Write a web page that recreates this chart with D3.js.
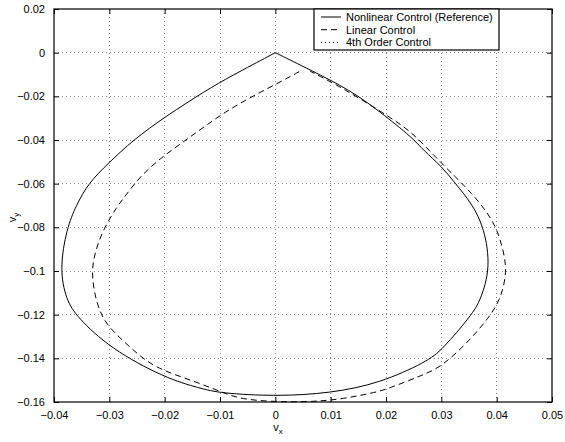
<!DOCTYPE html>
<html>
<head>
<meta charset="utf-8">
<style>
  body { margin: 0; background: #fff; }
  svg text { font-family: "Liberation Sans", Arial, sans-serif; font-size: 11px; fill: #000; }
  .grid line { stroke: #888; stroke-dasharray: 1,3; shape-rendering: crispEdges; }
</style>
<script src="https://d3js.org/d3.v7.min.js"></script>
</head>
<body>
<svg id="chart" width="565" height="442"></svg>
<script>
// nonlinear control (reference) trajectory
var nlX = [0, -0.0082, -0.0124, -0.0199, -0.0257, -0.0302, -0.0338, -0.0360, -0.0377, -0.0390, -0.0378, -0.0359, -0.0299, -0.0199, -0.0136, -0.0100, 0.0002, 0.0099, 0.0189, 0.0274, 0.0301, 0.0355, 0.0371, 0.0389, 0.0378, 0.0355, 0.0325, 0.0301, 0.0267, 0.0249, 0.0189, 0.0135, 0.0063, 0];
var nlY = [0, -0.0110, -0.0171, -0.0293, -0.0400, -0.0507, -0.0598, -0.0700, -0.0804, -0.0990, -0.1132, -0.1209, -0.1354, -0.1491, -0.1537, -0.1560, -0.1574, -0.1560, -0.1514, -0.1415, -0.1362, -0.1201, -0.1133, -0.0985, -0.0804, -0.0690, -0.0598, -0.0522, -0.0446, -0.0392, -0.0270, -0.0171, -0.0079, 0];
// linear control trajectory
var linX = [0.0043, 0.0018, -0.0075, -0.0124, -0.0166, -0.0208, -0.0245, -0.0272, -0.0286, -0.0310, -0.0325, -0.0333, -0.0325, -0.0311, -0.0290, -0.0257, -0.0232, -0.0199, -0.0136, -0.0088, -0.0052, 0.0027, 0.0075, 0.0122, 0.0177, 0.0201, 0.0267, 0.0301, 0.0352, 0.0385, 0.0407, 0.0419, 0.0412, 0.0400, 0.0382, 0.0355, 0.0325, 0.0286, 0.0249, 0.0210, 0.0147, 0.0105, 0.0063];
var linY = [-0.0087, -0.0122, -0.0244, -0.0331, -0.0408, -0.0484, -0.0568, -0.0659, -0.0705, -0.0804, -0.0904, -0.1003, -0.1132, -0.1224, -0.1285, -0.1362, -0.1415, -0.1461, -0.1514, -0.1565, -0.1592, -0.1601, -0.1597, -0.1586, -0.1558, -0.1542, -0.1476, -0.1438, -0.1316, -0.1216, -0.1132, -0.1003, -0.0904, -0.0804, -0.0728, -0.0644, -0.0568, -0.0470, -0.0369, -0.0300, -0.0201, -0.0140, -0.0085];
var legendNames = ["Nonlinear Control (Reference)", "Linear Control", "4th Order Control"];
var legendDash = ["none", "6,4", "1,3"];
var xTicks = [-0.04, -0.03, -0.02, -0.01, 0, 0.01, 0.02, 0.03, 0.04, 0.05];
var yTicks = [0.02, 0, -0.02, -0.04, -0.06, -0.08, -0.1, -0.12, -0.14, -0.16];

var margin = {top: 9, right: 13, bottom: 40, left: 54},
    width = 565 - margin.left - margin.right,
    height = 442 - margin.top - margin.bottom;

var x = d3.scaleLinear().domain([-0.04, 0.05]).range([0, width]);
var y = d3.scaleLinear().domain([-0.16, 0.02]).range([height, 0]);

var svg = d3.select("#chart");
var main = svg.append("g").attr("transform", "translate(" + margin.left + "," + margin.top + ")");

var fmt = function(d) { return d === 0 ? "0" : String(+d.toFixed(2)).replace("-", "\u2212"); };

// grid
var grid = main.append("g").attr("class", "grid");
grid.selectAll(".gx").data(xTicks.slice(1, -1)).enter().append("line")
  .attr("x1", d => x(d)).attr("x2", d => x(d)).attr("y1", 0).attr("y2", height);
grid.selectAll(".gy").data(yTicks.slice(1, -1)).enter().append("line")
  .attr("y1", d => y(d)).attr("y2", d => y(d)).attr("x1", 0).attr("x2", width);

// axes, ticks inside on all sides
function styleAxis(g) {
  g.select(".domain").remove();
  g.selectAll("line").attr("stroke", "#000");
  g.selectAll("text").style("font-size", "11px").style("font-family", "Liberation Sans, Arial, sans-serif");
}
main.append("g").attr("transform", "translate(0," + height + ")")
  .call(d3.axisBottom(x).tickValues(xTicks).tickSizeInner(-5).tickPadding(9).tickFormat(fmt)).call(styleAxis);
main.append("g")
  .call(d3.axisTop(x).tickValues(xTicks).tickSizeInner(-5).tickFormat("")).call(styleAxis);
main.append("g")
  .call(d3.axisLeft(y).tickValues(yTicks).tickSizeInner(-5).tickPadding(9).tickFormat(fmt)).call(styleAxis);
main.append("g").attr("transform", "translate(" + width + ",0)")
  .call(d3.axisRight(y).tickValues(yTicks).tickSizeInner(-5).tickFormat("")).call(styleAxis);

main.append("rect").attr("width", width).attr("height", height)
  .attr("fill", "none").attr("stroke", "#000").attr("stroke-width", 1.2);

// curves
var line = d3.line().x(d => x(d[0])).y(d => y(d[1])).curve(d3.curveBasis);
main.append("path").datum(d3.zip(nlX, nlY)).attr("d", line)
  .attr("fill", "none").attr("stroke", "#000").attr("stroke-width", 1);
main.append("path").datum(d3.zip(linX, linY)).attr("d", line)
  .attr("fill", "none").attr("stroke", "#000").attr("stroke-width", 1).attr("stroke-dasharray", "6,4");

// axis labels
var xl = main.append("text").attr("x", x(0.0005)).attr("y", height + 29).attr("text-anchor", "middle");
xl.append("tspan").text("v");
xl.append("tspan").attr("dy", 3).style("font-size", "8px").text("x");
var yl = main.append("text").attr("transform", "translate(-38," + (y(-0.0755)) + ") rotate(-90)").attr("text-anchor", "middle");
yl.append("tspan").text("v");
yl.append("tspan").attr("dy", 3).style("font-size", "8px").text("y");

// legend
var lg = svg.append("g").attr("transform", "translate(314,9)");
lg.append("rect").attr("width", 185).attr("height", 41).attr("fill", "#fff").attr("stroke", "#000").attr("stroke-width", 1.2);
var row = lg.selectAll(".row").data(legendNames).enter().append("g")
  .attr("transform", (d, i) => "translate(0," + (8 + i * 12.7) + ")");
row.append("line").attr("x1", 7).attr("x2", 27).attr("y1", 0).attr("y2", 0)
  .attr("stroke", "#000").attr("stroke-dasharray", (d, i) => legendDash[i]);
row.append("text").attr("x", 32).attr("y", 4).text(d => d);
</script>
</body>
</html>
